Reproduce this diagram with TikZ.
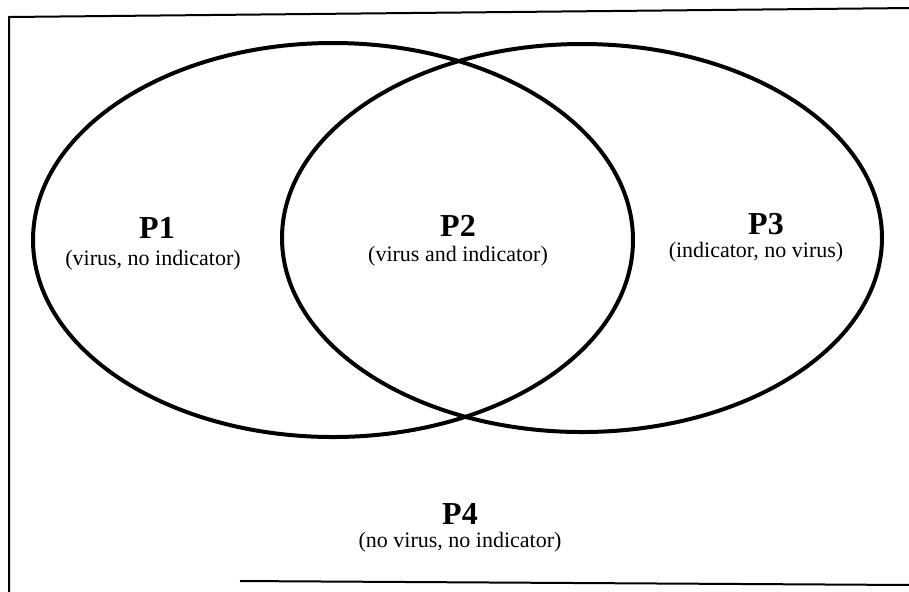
\documentclass[tikz,border=0pt]{standalone}
\usepackage{fontspec}
\setmainfont{Liberation Serif}
\begin{document}
\begin{tikzpicture}[x=0.5pt, y=-0.5pt,
	region/.style={font=\fontsize{16}{18}\selectfont\bfseries, inner sep=0pt},
	note/.style={font=\fontsize{11}{13}\selectfont, inner sep=0pt},
	set/.style={line width=2pt}]
	\useasboundingbox (0,0) rectangle (909,591);
	% frame (open on the right)
	\draw[line width=1pt] (912,8) -- (9,17) -- (9,593);
	\draw[line width=1pt] (240,581) -- (912,585);
	% the two sets
	\draw[set] (333,240) ellipse [x radius=300, y radius=197];
	\draw[set] (582,238) ellipse [x radius=300, y radius=194];
	% labels
	\node[region] (p1) at (157,228) {P1};
	\node[note] (n1) at (153,260) {(virus, no indicator)};
	\node[region] (p2) at (458,226) {P2};
	\node[note] (n2) at (458,256) {(virus and indicator)};
	\node[region] (p3) at (766,224) {P3};
	\node[note] (n3) at (756,252) {(indicator, no virus)};
	\node[region] (p4) at (460,514) {P4};
	\node[note] (n4) at (460,542) {(no virus, no indicator)};
\end{tikzpicture}
\end{document}
